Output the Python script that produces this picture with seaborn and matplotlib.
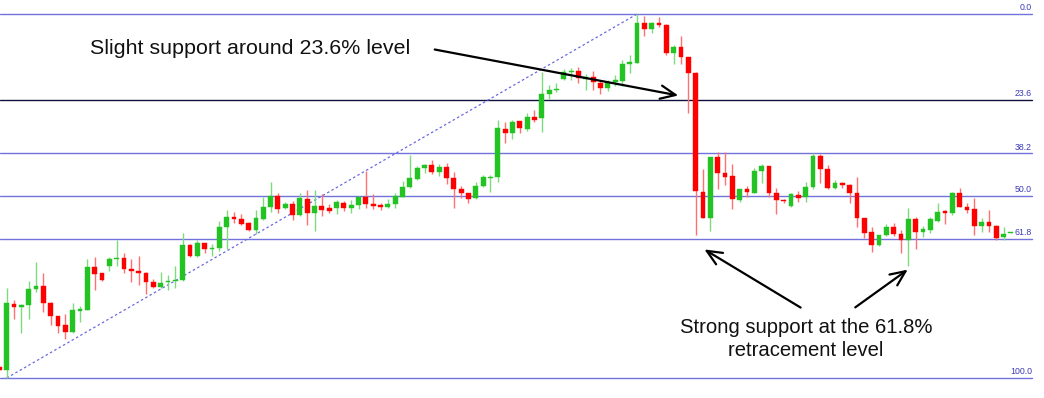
import numpy as np
import pandas as pd
import matplotlib
matplotlib.use("Agg")
import matplotlib.pyplot as plt
import seaborn as sns

# ---- data (price in pips above the swing low) ----
opens = [11, 8, 74, 71, 73, 89, 92, 75, 62, 53, 46, 67, 68, 111, 105, 112, 119, 120, 109, 107,
         105, 96, 91, 96, 97, 98, 133, 122, 135, 129, 130, 151, 161, 159, 155, 148, 159, 171, 182, 170,
         174, 163, 179, 165, 172, 170, 170, 175, 170, 173, 181, 174, 173, 171, 174, 181, 191, 199, 210, 213,
         206, 211, 200, 189, 185, 180, 192, 200, 201, 249, 245, 257, 249, 261, 260, 284, 288, 299, 306, 307,
         299, 301, 295, 290, 296, 297, 314, 315, 355, 349, 355, 353, 325, 331, 321, 305, 186, 160, 221, 205,
         202, 178, 189, 185, 207, 212, 185, 178, 172, 183, 181, 191, 222, 209, 190, 195, 193, 185, 160, 146,
         133, 143, 151, 144, 138, 159, 146, 148, 157, 167, 165, 185, 171, 169, 152, 156, 152, 141, 145]
highs = [12, 90, 78, 74, 97, 116, 105, 76, 62, 64, 75, 72, 119, 121, 105, 121, 138, 125, 119, 122,
         106, 99, 106, 103, 112, 145, 134, 138, 135, 134, 157, 168, 166, 164, 156, 168, 181, 196, 185, 176,
         177, 185, 188, 188, 184, 174, 178, 177, 178, 182, 207, 184, 175, 179, 185, 197, 223, 212, 214, 218,
         214, 215, 206, 192, 185, 196, 203, 203, 258, 256, 258, 257, 265, 268, 306, 293, 295, 309, 310, 311,
         304, 307, 298, 298, 303, 318, 323, 364, 362, 356, 361, 354, 333, 342, 321, 306, 209, 221, 226, 226,
         214, 189, 192, 210, 214, 212, 190, 179, 185, 187, 196, 225, 224, 213, 198, 196, 194, 201, 160, 151,
         143, 154, 155, 148, 170, 161, 152, 161, 175, 168, 186, 190, 175, 180, 160, 168, 153, 151, 146]
lows = [7, 0, 59, 45, 59, 86, 66, 53, 45, 39, 45, 56, 68, 88, 97, 107, 112, 105, 96, 93,
        84, 90, 90, 88, 90, 97, 121, 121, 125, 122, 127, 129, 155, 153, 147, 144, 158, 166, 165, 169,
        158, 162, 153, 147, 162, 165, 164, 167, 165, 169, 170, 169, 168, 170, 170, 181, 190, 198, 205, 204,
        202, 194, 170, 180, 175, 179, 191, 186, 196, 235, 239, 245, 247, 256, 246, 279, 286, 298, 298, 295,
        288, 288, 284, 287, 292, 292, 305, 315, 342, 345, 351, 323, 314, 314, 265, 143, 160, 147, 189, 193,
        169, 176, 181, 185, 195, 181, 164, 175, 171, 176, 176, 189, 195, 189, 189, 190, 175, 151, 140, 126,
        132, 142, 142, 125, 112, 129, 141, 145, 156, 154, 163, 171, 165, 143, 146, 146, 138, 138, 145]
closes = [8, 75, 71, 73, 89, 92, 75, 62, 52, 46, 68, 69, 111, 104, 98, 119, 120, 109, 107, 105,
          96, 91, 95, 97, 98, 133, 122, 135, 129, 130, 151, 161, 159, 154, 148, 160, 171, 182, 169, 174,
          163, 180, 165, 172, 168, 167, 176, 170, 173, 181, 174, 172, 171, 174, 182, 191, 200, 210, 213, 206,
          211, 200, 189, 185, 179, 192, 201, 201, 250, 245, 256, 250, 261, 258, 284, 288, 289, 306, 307, 300,
          301, 296, 290, 296, 298, 314, 316, 355, 349, 355, 353, 325, 331, 321, 305, 187, 160, 221, 205, 201,
          179, 189, 186, 207, 212, 185, 178, 177, 184, 180, 191, 222, 209, 190, 195, 193, 185, 160, 145, 133,
          143, 151, 144, 138, 159, 146, 149, 159, 166, 165, 185, 171, 168, 152, 156, 152, 140, 144, 146]

fib_levels = [0.0, 23.6, 38.2, 50.0, 61.8, 100.0]
fib_labels = ["0.0", "23.6", "38.2", "50.0", "61.8", "100.0"]

note_top = "Slight support around 23.6% level"
note_bottom = "Strong support at the 61.8%\nretracement level"

# ---- build frame ----
df = pd.DataFrame({"open": opens, "high": highs, "low": lows, "close": closes})
df["idx"] = np.arange(1, len(df) + 1)
df["up"] = df["close"] >= df["open"]

sns.set_theme(style="white")
plt.rcParams["font.family"] = ["Liberation Sans", "DejaVu Sans"]

W, H = 1044, 398
fig = plt.figure(figsize=(W / 100, H / 100), dpi=100)
ax = fig.add_axes([0, 0, 1, 1])
ax.set_axis_off()

GREEN = "#22c322"
RED = "#ff0000"
GREEN_W = "#7fd97f"
RED_W = "#ff7070"

# wicks
for up, grp in df.groupby("up"):
    ax.vlines(grp["idx"], grp["low"], grp["high"], color=GREEN_W if up else RED_W,
              linewidth=1.0, zorder=2)
# bodies
body_bottom = np.minimum(df["open"], df["close"])
body_h = np.maximum(np.abs(df["close"] - df["open"]), 1.3)
colors = [GREEN if u else RED for u in df["up"]]
ax.bar(df["idx"], body_h, bottom=body_bottom, width=0.66, color=colors,
       edgecolor=colors, linewidth=0.3, zorder=3)

# fibonacci levels from swing low / high
i_low = int(df["low"].idxmin())
i_high = int(df["high"].idxmax())
p_low = df["low"].min()
p_high = df["high"].max()
rng = p_high - p_low

x_left = 2 - 6.7 / 7.33
x_right = 2 + (W - 6.7) / 7.33
ax.set_xlim(x_left, x_right)
ax.set_ylim(p_low - 20 * rng / 364, p_high + 14 * rng / 364)

line_end = 1032 / W
for lvl, lab in zip(fib_levels, fib_labels):
    y = p_high - lvl / 100 * rng
    col = "#101040" if lvl == 23.6 else "#7272dc"
    ax.axhline(y, xmin=0, xmax=line_end, color=col, linewidth=1.0, zorder=1)
    ax.text(line_end, y + 1.5, lab, transform=ax.get_yaxis_transform(),
            ha="right", va="bottom", fontsize=6.3, color="#3a3ab8", zorder=5)

# diagonal dashed line from swing low to swing high
diag = pd.DataFrame({"x": [df.loc[i_low, "idx"], df.loc[i_high, "idx"]],
                     "y": [p_low, p_high]})
sns.lineplot(data=diag, x="x", y="y", ax=ax, color="#6a6ae0", linewidth=0.9,
             linestyle=(0, (2, 2)), zorder=1, legend=False)
ax.set_xlim(x_left, x_right)
ax.set_axis_off()

# annotations (figure pixel coordinates)
def fig_xy(px, py):
    return (px / W, 1 - py / H)

ax.text(*fig_xy(90, 48), note_top, transform=fig.transFigure, ha="left", va="center",
        fontsize=15.4, color="#111111", zorder=6)
ax.text(*fig_xy(806, 339), note_bottom, transform=fig.transFigure, ha="center", va="center",
        fontsize=14.6, color="#111111", linespacing=1.3, zorder=6)

arrow_kw = dict(arrowstyle="->,head_length=0.9,head_width=0.4", color="black", lw=1.6)
ax.annotate("", xy=fig_xy(681, 96), xytext=fig_xy(432, 49),
            xycoords="figure fraction", textcoords="figure fraction", arrowprops=arrow_kw)
ax.annotate("", xy=fig_xy(702, 248), xytext=fig_xy(803, 309),
            xycoords="figure fraction", textcoords="figure fraction", arrowprops=arrow_kw)
ax.annotate("", xy=fig_xy(910, 268), xytext=fig_xy(853, 309),
            xycoords="figure fraction", textcoords="figure fraction", arrowprops=arrow_kw)

fig.savefig("out.png", dpi=100, facecolor="white")
